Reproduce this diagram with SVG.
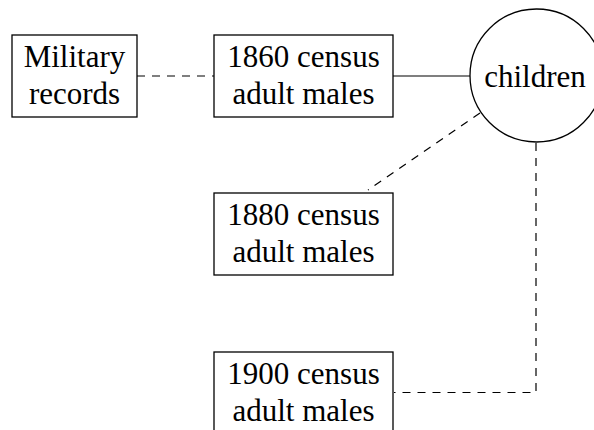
<svg xmlns="http://www.w3.org/2000/svg" width="594" height="430" viewBox="0 0 594 430">
<style>
.box{fill:#fff;stroke:#000;stroke-width:1.3}
.t{font-family:"Liberation Serif","Times New Roman",serif;font-size:31px;fill:#000;text-anchor:middle}
.c{fill:none;stroke:#000;stroke-width:1.2}
.d{stroke-dasharray:8 7}
</style>
<rect width="594" height="430" fill="#fff"/>
<g id="connectors">
<line class="c d" x1="137" y1="76" x2="214" y2="76"/>
<line class="c" x1="393" y1="76" x2="470" y2="76"/>
<line class="c d" x1="480" y1="113" x2="368" y2="190"/>
<polyline class="c d" points="536,143 536,392.5 394,392.5"/>
</g>
<g id="military">
<rect class="box" x="12" y="35" width="125" height="82"/>
<text class="t" x="74.5" y="67">Military</text>
<text class="t" x="74.5" y="104">records</text>
</g>
<g id="c1860">
<rect class="box" x="214" y="35" width="179" height="82"/>
<text class="t" x="303.5" y="67">1860 census</text>
<text class="t" x="303.5" y="104">adult males</text>
</g>
<g id="children">
<circle class="box" cx="536.5" cy="75.5" r="66.5"/>
<text class="t" x="535" y="87">children</text>
</g>
<g id="c1880">
<rect class="box" x="214" y="193" width="179" height="82"/>
<text class="t" x="303.5" y="225">1880 census</text>
<text class="t" x="303.5" y="262">adult males</text>
</g>
<g id="c1900">
<rect class="box" x="214" y="352" width="179" height="82"/>
<text class="t" x="303.5" y="384">1900 census</text>
<text class="t" x="303.5" y="421">adult males</text>
</g>
</svg>
